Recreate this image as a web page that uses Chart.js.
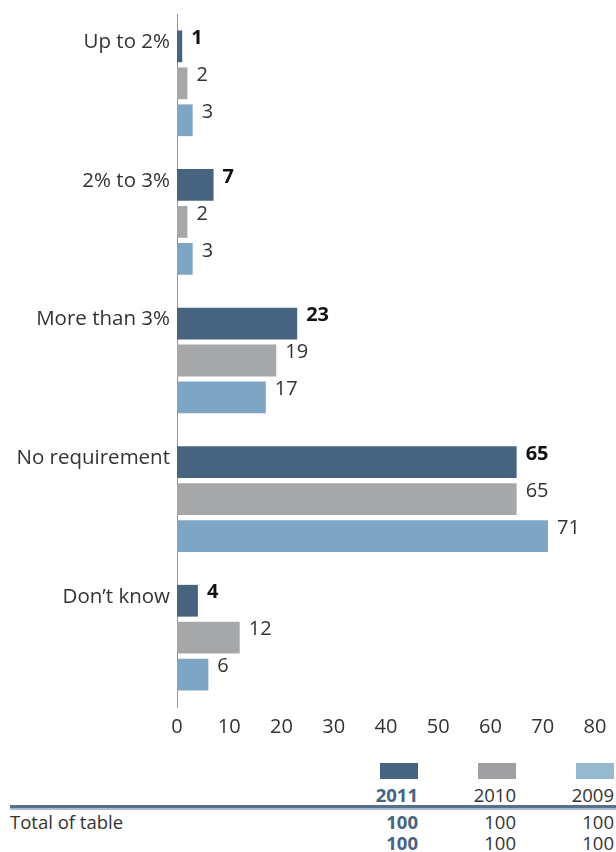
<!DOCTYPE html>
<html><head><meta charset="utf-8">
<script src="https://cdn.jsdelivr.net/npm/chart.js@4"></script>
<style>
html,body{margin:0;padding:0;background:#fff;width:616px;height:852px;overflow:hidden;font-family:"Open Sans",sans-serif;color:#333;}
#wrap{position:absolute;left:0;top:0;width:616px;height:740px;}
.sw{position:absolute;top:763px;width:38px;height:16px;}
.t{position:absolute;font-size:18.5px;line-height:20px;white-space:nowrap;}
.r{text-align:right;width:60px;}
.b{font-weight:bold;color:#46637f;}
</style></head><body>
<div id="wrap"><canvas id="c" width="616" height="740"></canvas></div>
<div id="table"></div>
<script>
const categories = ["Up to 2%", "2% to 3%", "More than 3%", "No requirement", "Don\u2019t know"];
const years = ["2011", "2010", "2009"];
const values2011 = [1, 7, 23, 65, 4];
const values2010 = [2, 2, 19, 65, 12];
const values2009 = [3, 3, 17, 71, 6];
const xTicks = [0, 10, 20, 30, 40, 50, 60, 70, 80];
const totalRowLabel = "Total of table";
const totals1 = [100, 100, 100];
const totals2 = [100, 100, 100];

const barColors = ["#46637f", "#a6a7a9", "#7fa5c4"];
const swatchColors = ["#46637f", "#a0a0a2", "#95bad0"];
const FONT = '"Open Sans"';

const valueLabels = {
  id: 'valueLabels',
  afterDatasetsDraw(chart) {
    const ctx = chart.ctx;
    chart.data.datasets.forEach((ds, di) => {
      const meta = chart.getDatasetMeta(di);
      meta.data.forEach((bar, i) => {
        ctx.save();
        ctx.font = (di === 0 ? 'bold ' : '') + '20px ' + FONT;
        ctx.fillStyle = di === 0 ? '#111' : '#333';
        ctx.textAlign = 'left';
        ctx.textBaseline = 'middle';
        ctx.fillText(String(ds.data[i]), bar.x + 9, bar.y - 8);
        ctx.restore();
      });
    });
  }
};

new Chart(document.getElementById('c'), {
  type: 'bar',
  data: {
    labels: categories,
    datasets: [
      {label: years[0], data: values2011, backgroundColor: barColors[0]},
      {label: years[1], data: values2010, backgroundColor: barColors[1]},
      {label: years[2], data: values2009, backgroundColor: barColors[2]}
    ]
  },
  options: {
    indexAxis: 'y',
    responsive: false,
    animation: false,
    categoryPercentage: 0.8,
    barPercentage: 0.86,
    layout: {padding: {top: 14, right: 21, left: 0, bottom: 0}},
    plugins: {legend: {display: false}, tooltip: {enabled: false}},
    scales: {
      x: {
        min: 0, max: 80,
        afterBuildTicks(scale) { scale.ticks = xTicks.map(v => ({value: v})); },
        grid: {display: false, drawTicks: false},
        border: {display: false},
        ticks: {font: {size: 20, family: FONT}, color: '#333', padding: 8},
        afterFit(scale) { scale.height = 33; }
      },
      y: {
        grid: {display: false, drawTicks: false},
        border: {display: true, color: '#8797a8', width: 1},
        ticks: {font: {size: 20.5, family: FONT}, color: '#333', padding: 7, labelOffset: -41},
        afterFit(scale) { scale.width = 177; scale.paddingTop = 0; scale.paddingBottom = 0; }
      }
    }
  },
  plugins: [valueLabels]
});

// Bottom table
const tb = document.getElementById('table');
const colRight = [418, 516, 614];
let html = '';
years.forEach((y, i) => {
  html += `<div class="sw" style="left:${colRight[i]-38}px;background:${swatchColors[i]}"></div>`;
  html += `<div class="t r${i===0?' b':''}" style="left:${colRight[i]-60}px;top:785px">${y}</div>`;
  html += `<div class="t r${i===0?' b':''}" style="left:${colRight[i]-60}px;top:812px">${totals1[i]}</div>`;
  html += `<div class="t r${i===0?' b':''}" style="left:${colRight[i]-60}px;top:833px">${totals2[i]}</div>`;
});
html += `<div style="position:absolute;left:10px;top:805px;width:606px;height:3px;background:#56718b"></div>`;
html += `<div style="position:absolute;left:10px;top:808px;width:606px;height:2px;background:#a9bccd"></div>`;
html += `<div class="t" style="left:10px;top:812px">${totalRowLabel}</div>`;
tb.innerHTML = html;
</script>
</body></html>
